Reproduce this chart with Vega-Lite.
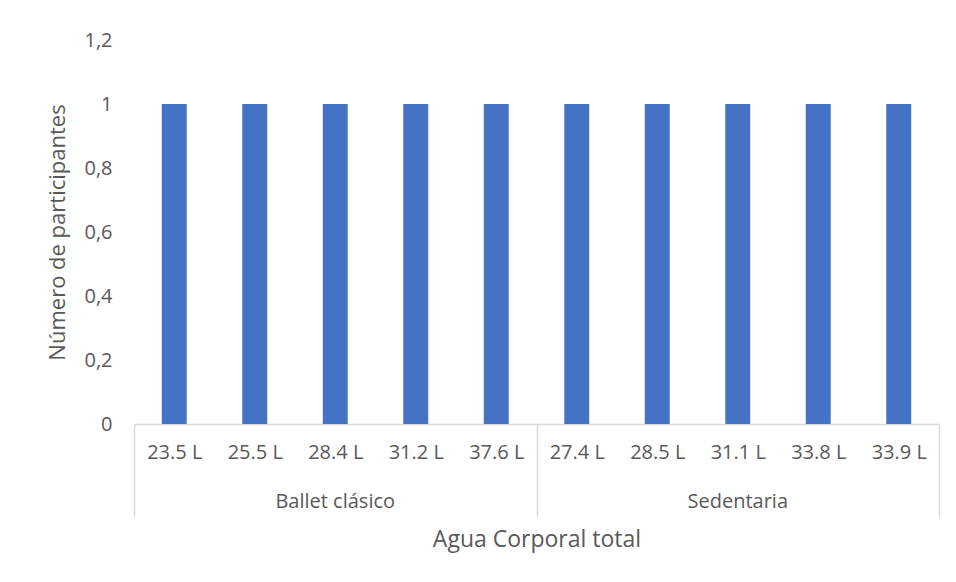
{
  "$schema": "https://vega.github.io/schema/vega-lite/v6.json",
  "autosize": "none",
  "width": 805,
  "height": 384,
  "padding": {"left": 134, "top": 40, "right": 17, "bottom": 158},
  "background": "white",
  "config": {
    "view": {"stroke": null},
    "font": "Open Sans"
  },
  "data": {
    "values": [
      {"grupo": "Ballet clásico", "agua": "23.5 L", "n": 1},
      {"grupo": "Ballet clásico", "agua": "25.5 L", "n": 1},
      {"grupo": "Ballet clásico", "agua": "28.4 L", "n": 1},
      {"grupo": "Ballet clásico", "agua": "31.2 L", "n": 1},
      {"grupo": "Ballet clásico", "agua": "37.6 L", "n": 1},
      {"grupo": "Sedentaria", "agua": "27.4 L", "n": 1},
      {"grupo": "Sedentaria", "agua": "28.5 L", "n": 1},
      {"grupo": "Sedentaria", "agua": "31.1 L", "n": 1},
      {"grupo": "Sedentaria", "agua": "33.8 L", "n": 1},
      {"grupo": "Sedentaria", "agua": "33.9 L", "n": 1}
    ]
  },
  "layer": [
    {
      "mark": {"type": "bar", "color": "#4472C4", "width": {"band": 0.31}},
      "encoding": {
        "x": {
          "field": "agua",
          "type": "nominal",
          "sort": null,
          "scale": {"paddingInner": 0, "paddingOuter": 0},
          "axis": {
            "title": "Agua Corporal total",
            "titleFont": "Open Sans",
            "titleFontSize": 23,
            "titleFontWeight": "normal",
            "titleColor": "#595959",
            "titlePadding": 11,
            "labelFont": "Open Sans",
            "labelFontSize": 20,
            "labelColor": "#595959",
            "labelAngle": 0,
            "labelPadding": -75,
            "tickBand": "extent",
            "tickSize": 93,
            "tickColor": "#d9d9d9",
            "tickWidth": 1.5,
            "tickOpacity": {
              "condition": {"test": "datum.value === '37.6 L' || datum.value === '33.9 L' || datum.extra", "value": 1},
              "value": 0
            },
            "domainColor": "#d9d9d9",
            "domainWidth": 1.5,
            "grid": false
          }
        },
        "y": {
          "field": "n",
          "type": "quantitative",
          "scale": {"domain": [0, 1.2]},
          "axis": {
            "title": "Número de participantes",
            "titleFont": "Open Sans",
            "titleFontSize": 22,
            "titleFontWeight": "normal",
            "titleColor": "#595959",
            "titlePadding": 14,
            "values": [0, 0.2, 0.4, 0.6, 0.8, 1, 1.2],
            "labelExpr": "replace(format(datum.value, '.1~f'), '.', ',')",
            "labelFont": "Open Sans",
            "labelFontSize": 20,
            "labelColor": "#595959",
            "labelPadding": 22,
            "ticks": false,
            "domain": false,
            "grid": false
          }
        }
      }
    },
    {
      "transform": [{"filter": {"field": "agua", "oneOf": ["28.4 L", "31.1 L"]}}],
      "mark": {"type": "text", "font": "Open Sans", "fontSize": 20, "color": "#595959", "baseline": "middle", "dy": 78},
      "encoding": {
        "x": {"field": "agua", "type": "nominal", "sort": null},
        "y": {"datum": 0},
        "text": {"field": "grupo"}
      }
    }
  ]
}
